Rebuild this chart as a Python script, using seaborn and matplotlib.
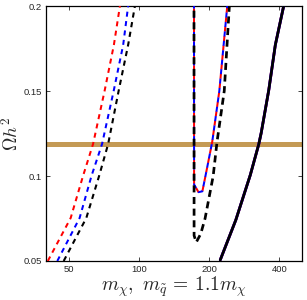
import numpy as np
import pandas as pd
import matplotlib
matplotlib.use("Agg")
import matplotlib.pyplot as plt
import seaborn as sns

# relic abundance curves (x = m_chi in GeV)
left_oh = [0.05, 0.0753, 0.10, 0.1188, 0.1506, 0.1771, 0.20]
left_red_m = [40.7, 51.0, 57.6, 63.6, 71.4, 78.1, 82.9]
left_blue_m = [44.7, 55.7, 62.6, 69.5, 78.1, 85.6, 89.9]
left_black_m = [47.6, 59.5, 67.5, 73.8, 82.0, 89.9, 96.1]

mid_rb_m = [172.0, 172.3, 180.0, 187.0, 196.0, 206.0, 221.0, 239.0]
mid_rb_oh = [0.30, 0.095, 0.0905, 0.091, 0.105, 0.12, 0.15, 0.20]
mid_black_m = [172.0, 172.3, 176.0, 184.0, 192.0, 208.0, 216.0, 232.0, 244.0]
mid_black_oh = [0.30, 0.065, 0.061, 0.066, 0.075, 0.10, 0.12, 0.15, 0.20]

right_m = [223.0, 260.0, 300.0, 326.0, 334.0, 360.0, 384.0, 417.0]
right_oh = [0.0506, 0.0741, 0.1006, 0.1186, 0.1253, 0.1506, 0.1771, 0.20]

planck_lo, planck_hi = 0.1172, 0.1199

x_ticks = [50, 100, 200, 400]
y_ticks = [0.05, 0.1, 0.15, 0.2]
y_ticklabels = ["0.05", "0.1", "0.15", "0.2"]

sns.set_style("ticks")
plt.rcParams["font.family"] = ["Liberation Sans", "DejaVu Sans"]
plt.rcParams["mathtext.fontset"] = "cm"

fig = plt.figure(figsize=(3.07, 3.0), dpi=100)
ax = fig.add_axes([0.150, 0.130, 0.834, 0.850])

ax.axhspan(planck_lo, planck_hi, color="#c49a55", lw=0, zorder=1)


def draw(m, oh, color, lw, dashes=None, offset=0):
    df = pd.DataFrame({"m": m, "oh": oh})
    n = len(ax.lines)
    sns.lineplot(data=df, x="m", y="oh", ax=ax, color=color, lw=lw,
                 sort=False, estimator=None, zorder=3)
    line = ax.lines[n]
    if dashes is None:
        line.set_linestyle("-")
    else:
        line.set_linestyle((offset, dashes))
    line.set_dash_capstyle("butt")


thin = (2.5, 2.2)
thick = (2.6, 1.7)

draw(left_red_m, left_oh, "red", 1.45, thin)
draw(left_blue_m, left_oh, "blue", 1.45, thin)
draw(left_black_m, left_oh, "black", 1.5, thin)

draw(mid_rb_m, mid_rb_oh, "red", 1.45, thin)
draw(mid_rb_m, mid_rb_oh, "blue", 1.45, thin, offset=2.4)
draw(mid_black_m, mid_black_oh, "black", 1.95, thick)

draw(right_m, right_oh, "red", 2.0)
draw(right_m, right_oh, "blue", 2.0)
draw(right_m, right_oh, "black", 1.9)

ax.set_xscale("log")
ax.set_xlim(40, 500)
ax.set_ylim(0.05, 0.2)
ax.set_xticks(x_ticks)
ax.set_xticklabels([str(t) for t in x_ticks])
ax.minorticks_off()
ax.set_yticks(y_ticks)
ax.set_yticklabels(y_ticklabels)
ax.tick_params(direction="in", length=3, width=0.6, labelsize=6.8,
               top=True, right=True, pad=3)
for s in ax.spines.values():
    s.set_linewidth(0.9)
    s.set_color("black")

ax.set_xlabel(r"$m_\chi,\ m_{\tilde{q}} \,=\, 1.1 m_\chi$", fontsize=14, labelpad=0)
ax.set_ylabel(r"$\Omega h^2$", fontsize=13.5, labelpad=1)

fig.savefig("out.png", dpi=100)
